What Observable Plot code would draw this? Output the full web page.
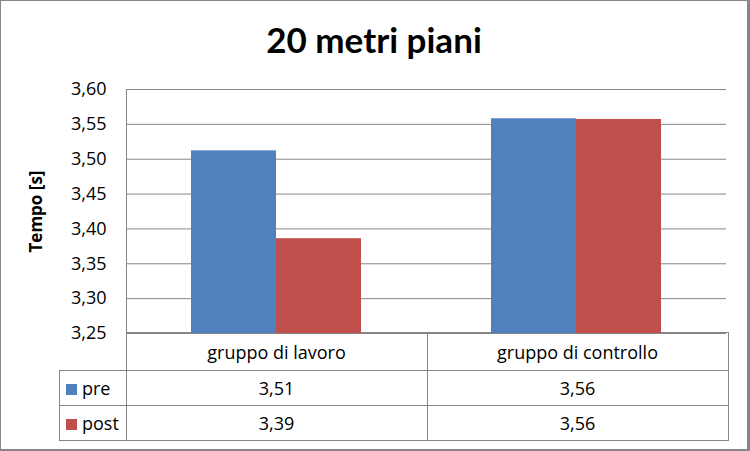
<!DOCTYPE html>
<html>
<head>
<meta charset="utf-8">
<script src="https://cdn.jsdelivr.net/npm/d3@7"></script>
<script src="https://cdn.jsdelivr.net/npm/@observablehq/plot@0.6"></script>
<style>
  html, body { margin: 0; padding: 0; background: #fff; }
  #frame { position: absolute; left: 0; top: 0; width: 750px; height: 451px; box-sizing: border-box; overflow: hidden;
    border-left: 1px solid #868686; border-top: 1px solid #868686; border-right: 3px solid #868686; border-bottom: 2px solid #868686;
    font-family: "Open Sans", sans-serif; color: #000; }
  #title { position: absolute; left: 0; top: 16px; width: 746px; text-align: center; font-family: Lato, sans-serif; font-size: 35px; font-weight: bold; line-height: 44px; }
  #chart { position: absolute; left: -1px; top: 69px; width: 751px; z-index: 2; }
  #chart svg { max-width: none; }
  #tbl { position: absolute; left: 58px; top: 331px; border-collapse: collapse; font-size: 18px; z-index: 1; }
  #tbl td { border: 1px solid #868686; padding: 0; text-align: center; }
  #tbl td.blank { border: none; }
  #tbl td.lg { text-align: left; padding-left: 6px; }
  .sw { display: inline-block; width: 11px; height: 11px; margin-right: 5px; vertical-align: 0px; }
</style>
</head>
<body>
<div id="frame">
  <div id="title"></div>
  <div id="chart"></div>
  <table id="tbl"></table>
</div>
<script>
const title = "20 metri piani";
const yLabel = "Tempo [s]";
const groups = ["gruppo di lavoro", "gruppo di controllo"];
const series = ["pre", "post"];
const pre = [3.512, 3.558];
const post = [3.386, 3.557];
const colors = ["#4F81BD", "#C0504D"];
const yDomain = [3.25, 3.60];
const yTicks = [3.25, 3.30, 3.35, 3.40, 3.45, 3.50, 3.55, 3.60];

const fmt = v => v.toFixed(2).replace(".", ",");
const values = {pre, post};
const data = [];
groups.forEach((g, i) => series.forEach(s => data.push({group: g, series: s, value: values[s][i]})));

document.getElementById("title").textContent = title;

const gray = "#868686";
const plot = Plot.plot({
  width: 751,
  height: 276,
  marginTop: 19,
  marginBottom: 13,
  marginLeft: 126,
  marginRight: 25,
  style: {fontFamily: "'Open Sans', sans-serif", fontSize: "18px", color: "#000", background: "transparent", overflow: "visible"},
  fx: {domain: groups, padding: 0, axis: null},
  x: {domain: series, paddingInner: 0, paddingOuter: 0.75, axis: null},
  y: {domain: yDomain, axis: null},
  color: {domain: series, range: colors},
  marks: [
    Plot.gridY(yTicks, {stroke: gray, strokeOpacity: 1, strokeWidth: 1}),
    Plot.rectY(data, {fx: "group", x: "series", y1: yDomain[0], y2: "value", fill: "series"}),
    Plot.frame({anchor: "left", stroke: gray, strokeOpacity: 1, facetAnchor: "left"}),
    Plot.axisY(yTicks, {tickSize: 0, tickPadding: 20, tickFormat: fmt, label: yLabel, labelAnchor: "center", labelArrow: "none", labelOffset: 97, fontSize: 18, facetAnchor: "left"})
  ]
});
document.getElementById("chart").appendChild(plot);
// bold axis label
plot.querySelectorAll("g[aria-label='y-axis label'] text").forEach(t => {
  t.setAttribute("font-weight", "bold");
  t.setAttribute("font-size", "17");
});

// data table
const tbl = document.getElementById("tbl");
const head = tbl.insertRow();
const b = head.insertCell(); b.className = "blank"; b.style.width = "66px";
groups.forEach(g => { const c = head.insertCell(); c.textContent = g; c.style.width = "300px"; c.style.height = "37px"; });
series.forEach((s, si) => {
  const r = tbl.insertRow();
  const c0 = r.insertCell(); c0.className = "lg"; c0.style.height = "34px";
  c0.innerHTML = `<span class="sw" style="background:${colors[si]}"></span>${s}`;
  values[s].forEach(v => { const c = r.insertCell(); c.textContent = fmt(v); });
});
</script>
</body>
</html>
